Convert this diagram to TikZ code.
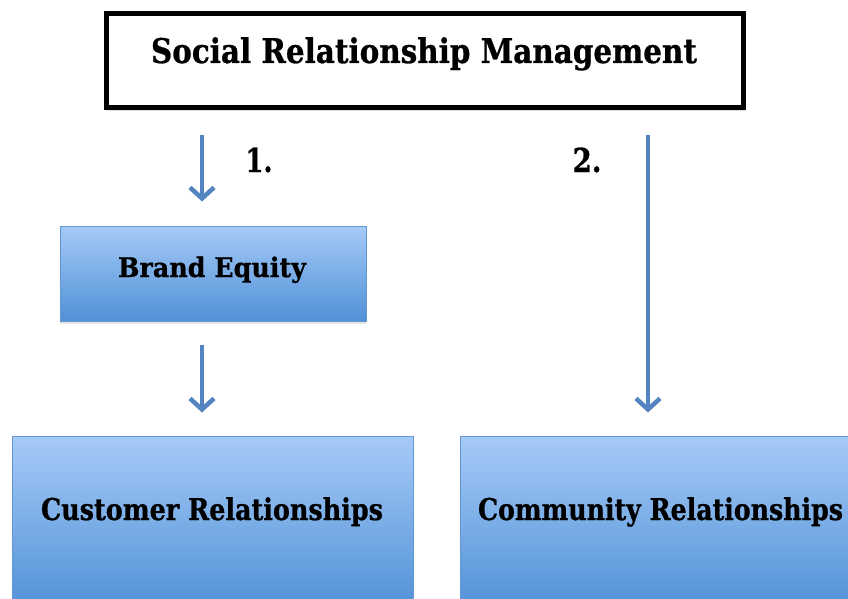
\documentclass[tikz,border=0pt]{standalone}
\usepackage{fontspec}
\setmainfont{DejaVu Serif}[BoldFeatures={FakeBold=0.8}]
\usetikzlibrary{arrows.meta,shadows}
\definecolor{arrblue}{RGB}{84,132,192}
\definecolor{boxtop}{RGB}{166,202,248}
\definecolor{boxbot}{RGB}{80,145,214}
\definecolor{boxline}{RGB}{98,150,212}
\newcommand{\fitw}[2]{\resizebox{#1}{\height}{#2}}
\begin{document}
\begin{tikzpicture}[x=1pt,y=-1pt,
  bluebox/.style={draw=boxline, line width=1pt, top color=boxtop, bottom color=boxbot, inner sep=0pt,
    drop shadow={shadow xshift=0pt, shadow yshift=-3pt, opacity=0.1, fill=black}},
  arr/.style={draw=arrblue, line width=4pt, -{Straight Barb[length=11pt,width=24pt,line width=4.5pt]}},
  lbl/.style={anchor=base, inner sep=0pt, font=\bfseries}
]
\useasboundingbox (0,0) rectangle (848,599);
\fill[white] (0,0) rectangle (848,599);
% title
\node[draw, line width=5pt, minimum width=637pt, minimum height=94pt, inner sep=0pt,
  drop shadow={shadow xshift=2pt, shadow yshift=-3pt, opacity=0.12, fill=black}, fill=white] (title) at (424.5,61) {};
\node[lbl, font=\bfseries\fontsize{34}{40}\selectfont] (titletext) at (424,63) {\fitw{546pt}{Social Relationship Management}};
% boxes
\node[bluebox, minimum width=306pt, minimum height=95pt] (brand) at (213,273.5) {};
\node[lbl, font=\bfseries\fontsize{27}{32}\selectfont] (brandtext) at (212,277) {\fitw{188pt}{Brand Equity}};
\node[bluebox, minimum width=401pt, minimum height=174pt] (cust) at (212.5,523) {};
\node[lbl, font=\bfseries\fontsize{30}{36}\selectfont] (custtext) at (212,520) {\fitw{342pt}{Customer Relationships}};
\node[bluebox, minimum width=401pt, minimum height=174pt] (comm) at (660.5,523) {};
\node[lbl, font=\bfseries\fontsize{30}{36}\selectfont] (commtext) at (660.5,520) {\fitw{365pt}{Community Relationships}};
% numbers
\node[lbl, font=\bfseries\fontsize{33}{40}\selectfont] (one) at (259,172) {\fitw{27pt}{1.}};
\node[lbl, font=\bfseries\fontsize{33}{40}\selectfont] (two) at (587,172) {\fitw{29pt}{2.}};
% arrows
\coordinate (c1) at (202,0);
\coordinate (c2) at (648,0);
\draw[arr] ([yshift=-24pt]title.south -| c1) -- ([yshift=24pt]brand.north -| c1);
\draw[arr] ([yshift=-23pt]brand.south -| c1) -- ([yshift=23pt]cust.north -| c1);
\draw[arr] ([yshift=-24pt]title.south -| c2) -- ([yshift=23pt]comm.north -| c2);
\end{tikzpicture}
\end{document}
